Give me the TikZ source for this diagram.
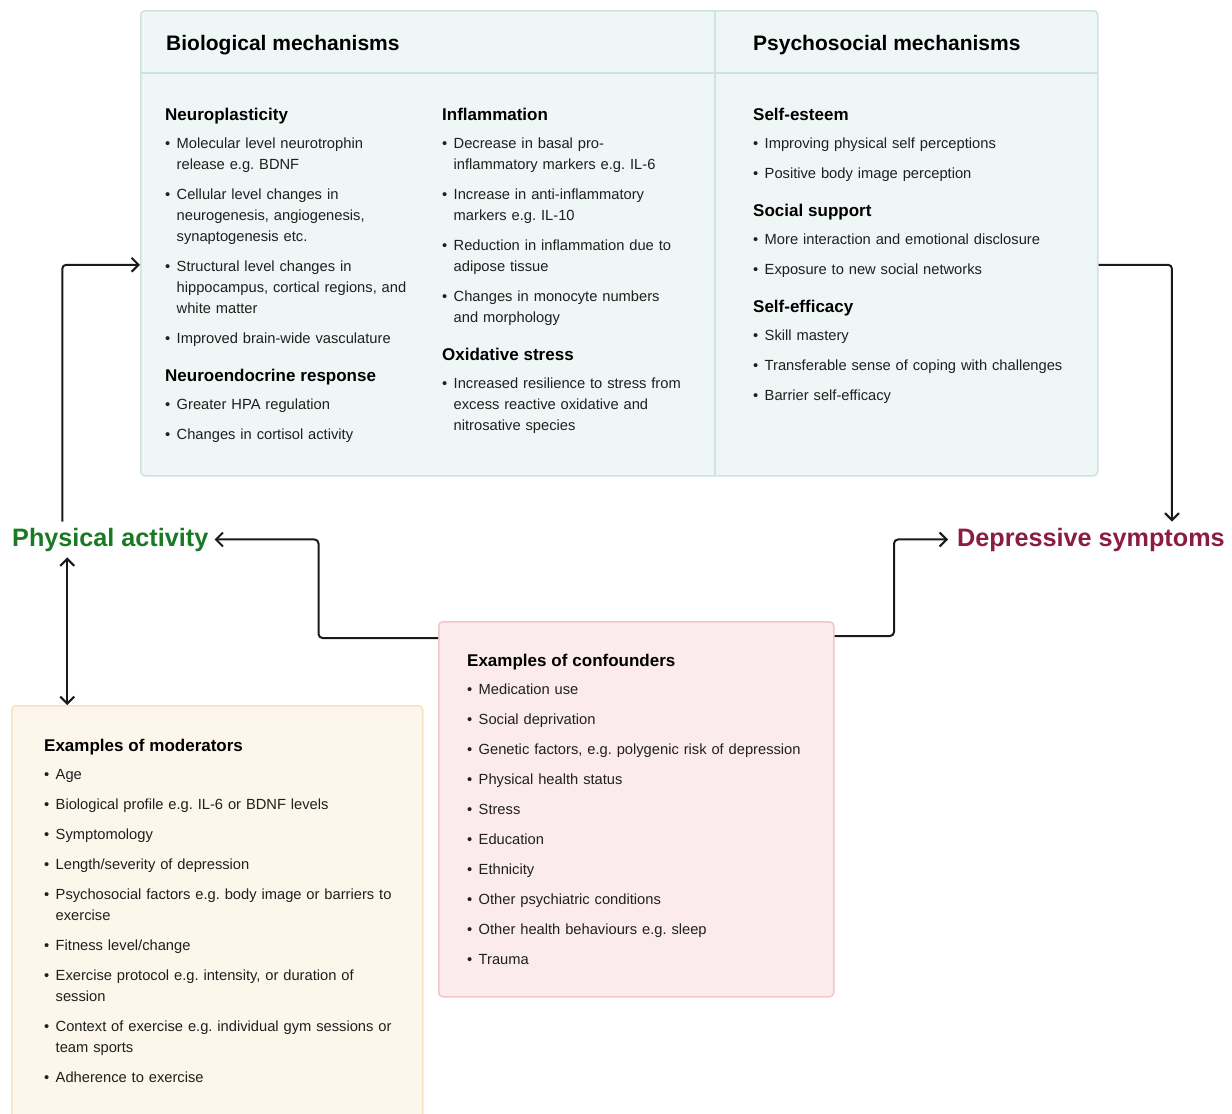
\documentclass[tikz,border=0pt]{standalone}
\usepackage{fontspec}
\setmainfont{Liberation Sans}
\usepackage{xcolor}
\usetikzlibrary{arrows.meta,positioning,calc}

\definecolor{mintfill}{HTML}{EFF6F6}
\definecolor{mintline}{HTML}{CDE3E0}
\definecolor{pinkfill}{HTML}{FCEBEC}
\definecolor{pinkline}{HTML}{F3C6C9}
\definecolor{creamfill}{HTML}{FDF6EA}
\definecolor{creamline}{HTML}{F5E3C4}
\definecolor{pagreen}{HTML}{1A7A24}
\definecolor{dsred}{HTML}{8C1D40}
\definecolor{txt}{HTML}{1F1F1F}
\definecolor{pfeilc}{HTML}{1A1A1A}

\frenchspacing
\newcommand\bodyfont{\fontsize{14.7}{21}\selectfont\color{txt}}
\newcommand\grp[1]{{\fontsize{17}{29}\selectfont\bfseries\color{black}#1\par}\vspace{-2pt}}
\newcommand\itm[1]{\noindent\hangindent=11.5pt\hangafter=1\makebox[11.5pt][l]{\textbullet}#1\par}

\begin{document}
\begin{tikzpicture}[x=1pt,y=-1pt,
  >={Straight Barb[length=7pt,width=14pt]},
  pfeil/.style={draw=pfeilc,line width=2pt,rounded corners=4pt},
  kasten/.style={draw=#1line,fill=#1fill,line width=1.5pt,rounded corners=4pt,inner sep=0pt,anchor=north west},
  spalte/.style={anchor=base west,inner sep=0pt,text width=#1,font=\bodyfont,
    execute at begin node={\setlength{\parskip}{9pt}\raggedright\frenchspacing}},
  titel/.style={anchor=base west,inner sep=0pt,font=\fontsize{21}{25}\selectfont\bfseries},
  ziel/.style={anchor=base west,inner sep=6pt,font=\fontsize{25.2}{30}\selectfont\bfseries}]
%Bildgroesse wie Vorlage
\clip (0,0) rectangle (1232,1114);
%Kaesten
\node[kasten=mint,minimum width=957pt,minimum height=465pt] (mech) at (140,10) {};
\node[kasten=pink,minimum width=395pt,minimum height=375pt] (conf) at (438,621) {};
\node[kasten=cream,minimum width=411pt,minimum height=430pt] (mod) at (11,705) {};
\draw[mintline,line width=1.5pt] (140,73) -- (1097,73);
\draw[mintline,line width=1.5pt] (715,10) -- (715,475);

\node[titel] (biotitel) at (166,50) {Biological mechanisms};
\node[titel] (psytitel) at (753,50) {Psychosocial mechanisms};

\node[spalte=270pt] (neuro) at (165,120) {%
\grp{Neuroplasticity}
\itm{Molecular level neurotrophin\newline release e.g. BDNF}
\itm{Cellular level changes in\newline neurogenesis, angiogenesis,\newline synaptogenesis etc.}
\itm{Structural level changes in\newline hippocampus, cortical regions, and\newline white matter}
\itm{Improved brain-wide vasculature}
\grp{Neuroendocrine response}
\itm{Greater HPA regulation}
\itm{Changes in cortisol activity}};

\node[spalte=270pt] (infl) at (442,120) {%
\grp{Inflammation}
\itm{Decrease in basal pro-\newline inflammatory markers e.g. IL-6}
\itm{Increase in anti-inflammatory\newline markers e.g. IL-10}
\itm{Reduction in inflammation due to\newline adipose tissue}
\itm{Changes in monocyte numbers\newline and morphology}
\grp{Oxidative stress}
\itm{Increased resilience to stress from\newline excess reactive oxidative and\newline nitrosative species}};

\node[spalte=330pt] (psy) at (753,120) {%
\grp{Self-esteem}
\itm{Improving physical self perceptions}
\itm{Positive body image perception}
\grp{Social support}
\itm{More interaction and emotional disclosure}
\itm{Exposure to new social networks}
\grp{Self-efficacy}
\itm{Skill mastery}
\itm{Transferable sense of coping with challenges}
\itm{Barrier self-efficacy}};

\node[spalte=355pt] (conflist) at (467,666) {%
\grp{Examples of confounders}
\itm{Medication use}
\itm{Social deprivation}
\itm{Genetic factors, e.g. polygenic risk of depression}
\itm{Physical health status}
\itm{Stress}
\itm{Education}
\itm{Ethnicity}
\itm{Other psychiatric conditions}
\itm{Other health behaviours e.g. sleep}
\itm{Trauma}};

\node[spalte=370pt] (modlist) at (44,751) {%
\grp{Examples of moderators}
\itm{Age}
\itm{Biological profile e.g. IL-6 or BDNF levels}
\itm{Symptomology}
\itm{Length/severity of depression}
\itm{Psychosocial factors e.g. body image or barriers to\newline exercise}
\itm{Fitness level/change}
\itm{Exercise protocol e.g. intensity, or duration of\newline session}
\itm{Context of exercise e.g. individual gym sessions or\newline team sports}
\itm{Adherence to exercise}};

%Ursache und Wirkung
\node[ziel,text=pagreen] (pa) at (6,546) {Physical activity};
\node[ziel,text=dsred] (ds) at (951,546) {Depressive symptoms};

%Pfeile
\draw[pfeil,->] ([xshift=-48pt]pa.north) |- ([yshift=-21.5pt]mech.west);
\draw[pfeil,->] ([yshift=-21.5pt]mech.east) -| ([xshift=81pt]ds.north);
\draw[pfeil,->] ([yshift=-17pt]conf.north west) -| ([xshift=104pt]pa.east) -- (pa.east);
\draw[pfeil,->] ([yshift=-15pt]conf.north east) -| ([xshift=-57pt]ds.west) -- ([xshift=-3pt]ds.west);
\path ([xshift=-43pt]pa.south) coordinate (pafuss);
\draw[pfeil,<->] (pafuss) -- (pafuss |- mod.north);
\end{tikzpicture}
\end{document}
